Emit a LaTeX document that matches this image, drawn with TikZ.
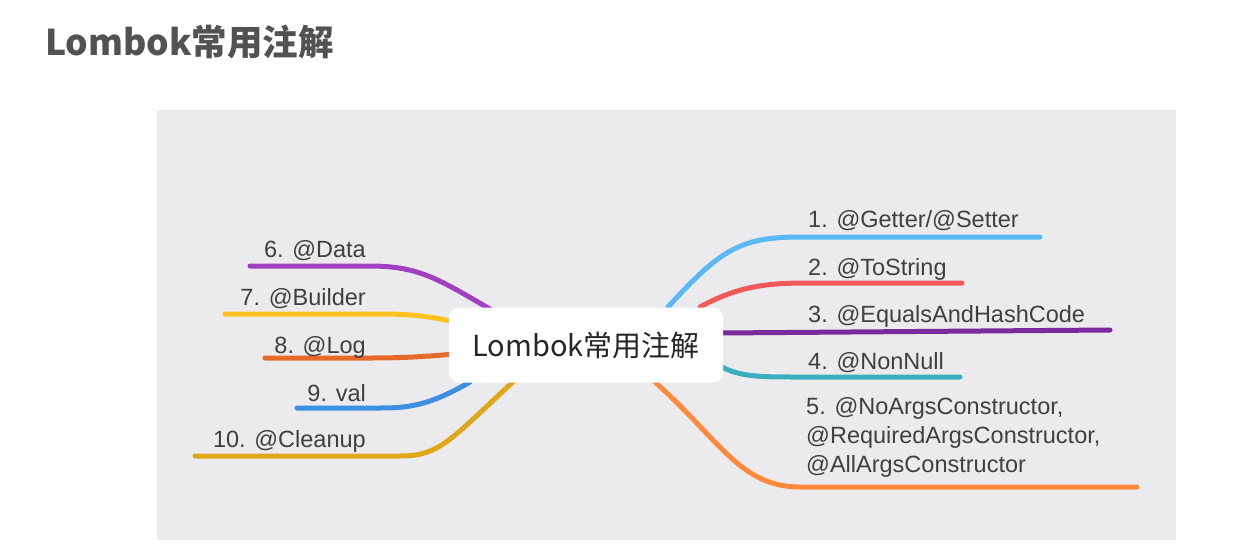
\documentclass[tikz,border=0pt]{standalone}
\usepackage{fontspec}
\setmainfont{Liberation Sans}
\newfontfamily\cjk{Noto Sans CJK SC}
\definecolor{panel}{HTML}{EBEBED}
\definecolor{cA}{HTML}{5AB8F5}
\definecolor{cB}{HTML}{F25A5A}
\definecolor{cC}{HTML}{7B2A9C}
\definecolor{cD}{HTML}{3AAFBF}
\definecolor{cE}{HTML}{FF8A3D}
\definecolor{cF}{HTML}{A040C0}
\definecolor{cG}{HTML}{FFC020}
\definecolor{cH}{HTML}{E86A2A}
\definecolor{cI}{HTML}{3D8FE0}
\definecolor{cJ}{HTML}{E0A818}
\tikzset{br/.style={line width=5pt,line cap=round},
 lab/.style={font=\fontsize{23.5}{28}\selectfont,text=black!75,inner sep=0pt}}
\begin{document}
\begin{tikzpicture}[x=1pt,y=-1pt]
\useasboundingbox (0,0) rectangle (1252,557);
\fill[white] (0,0) rectangle (1252,557);
\node[anchor=west,font=\cjk\bfseries\fontsize{35.5}{40}\selectfont,text=black!68,inner sep=0pt] (title) at (45,42) {Lombok常用注解};
\fill[panel] (157,110) rectangle (1176,540);
% branches right
\coordinate (r1) at (1040,237); \coordinate (r2) at (962,283); \coordinate (r3) at (1110,330);
\coordinate (r4) at (960,377); \coordinate (r5) at (1137,487);
\draw[br,cA] (668,307) .. controls (720,250) and (740,237) .. (800,237) -- (r1);
\draw[br,cB] (700,307) .. controls (740,285) and (770,283) .. (810,283) -- (r2);
\draw[br,cC] (720,333) -- (r3);
\draw[br,cD] (720,366) .. controls (740,377) and (760,377) .. (800,377) -- (r4);
\draw[br,cE] (655,382) .. controls (720,440) and (740,487) .. (800,487) -- (r5);
% branches left
\coordinate (l6) at (250,266); \coordinate (l7) at (225,314); \coordinate (l8) at (265,358);
\coordinate (l9) at (297,408); \coordinate (l10) at (195,456);
\draw[br,cF] (495,312) .. controls (440,280) and (420,266) .. (370,266) -- (l6);
\draw[br,cG] (455,322) .. controls (420,314) and (400,314) .. (370,314) -- (l7);
\draw[br,cH] (455,354) .. controls (420,357) and (400,358) .. (370,358) -- (l8);
\draw[br,cI] (470,382) .. controls (430,405) and (410,408) .. (380,408) -- (l9);
\draw[br,cJ] (515,380) .. controls (450,440) and (440,456) .. (400,456) -- (l10);
% center
\node[fill=white,rounded corners=10pt,minimum width=274pt,minimum height=75pt,font=\cjk\fontsize{29}{33}\selectfont,text=black!85] (c) at (586,345) {Lombok常用注解};
% labels
\node[lab,anchor=base west] (t1) at (808,227) {1. @Getter/@Setter};
\node[lab,anchor=base west] (t2) at (808,275) {2. @ToString};
\node[lab,anchor=base west] (t3) at (808,322) {3. @EqualsAndHashCode};
\node[lab,anchor=base west] (t4) at (808,369) {4. @NonNull};
\node[lab,anchor=north west,align=left,font=\fontsize{23.5}{29}\selectfont] (t5) at (806,397) {5. @NoArgsConstructor,\\@RequiredArgsConstructor,\\@AllArgsConstructor};
\node[lab,anchor=base east] (t6) at (366,257) {6. @Data};
\node[lab,anchor=base east] (t7) at (366,305) {7. @Builder};
\node[lab,anchor=base east] (t8) at (366,353) {8. @Log};
\node[lab,anchor=base east] (t9) at (366,401) {9. val};
\node[lab,anchor=base east] (t10) at (366,447) {10. @Cleanup};
\end{tikzpicture}
\end{document}
